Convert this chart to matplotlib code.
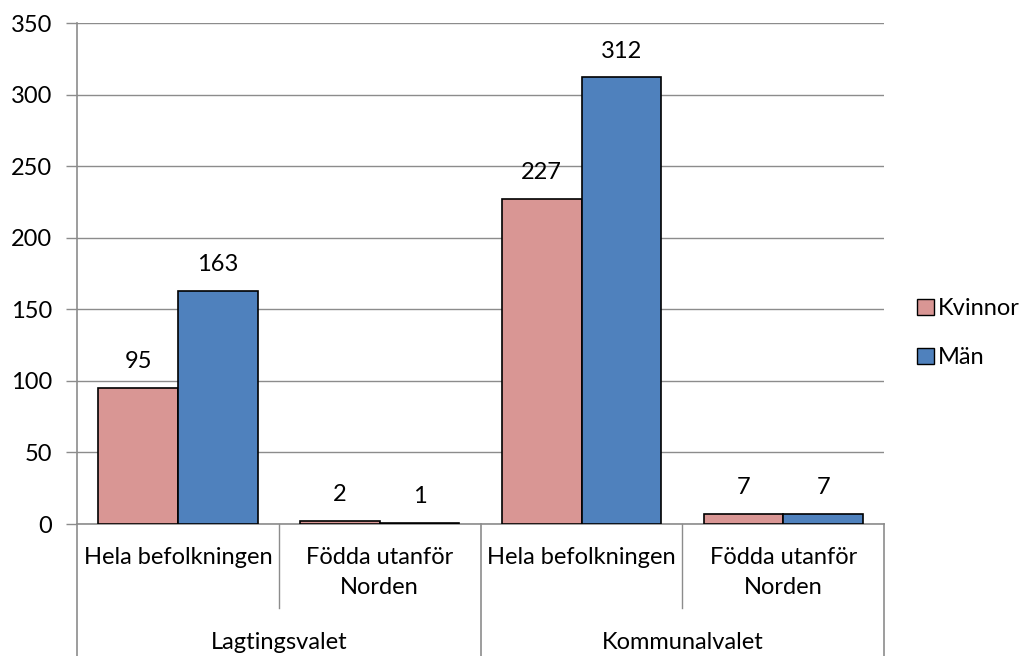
import matplotlib.pyplot as plt
from matplotlib.lines import Line2D
from matplotlib.patches import Patch

# data
categories = ["Hela befolkningen", "Födda utanför\nNorden", "Hela befolkningen", "Födda utanför\nNorden"]
groups = ["Lagtingsvalet", "Kommunalvalet"]
kvinnor = [95, 2, 227, 7]
man = [163, 1, 312, 7]
series_names = ["Kvinnor", "Män"]

pink = "#D99694"
blue = "#4F81BD"
grid_col = "#8C8C8C"

plt.rcParams["font.family"] = ["Lato", "DejaVu Sans"]
plt.rcParams["font.size"] = 17

fig = plt.figure(figsize=(10.27, 6.56), dpi=100)
ax = fig.add_axes([0.075, 0.2012, 0.786, 0.7637])

x = list(range(len(categories)))
w = 0.395
ax.bar([i - w / 2 for i in x], kvinnor, w, color=pink, edgecolor="black", linewidth=1.2, zorder=3)
ax.bar([i + w / 2 for i in x], man, w, color=blue, edgecolor="black", linewidth=1.2, zorder=3)

for i in x:
    ax.text(i - w / 2, kvinnor[i] + 11, str(kvinnor[i]), ha="center", va="bottom")
    ax.text(i + w / 2, man[i] + 11, str(man[i]), ha="center", va="bottom")

ax.set_xlim(-0.5, 3.5)
ax.set_ylim(0, 350)
ax.set_yticks(range(0, 351, 50))
ax.yaxis.grid(True, color=grid_col, linewidth=1)
ax.set_axisbelow(True)
ax.tick_params(axis="y", length=8, color=grid_col, width=1, pad=10)
ax.set_xticks([])

for s in ["top", "right"]:
    ax.spines[s].set_visible(False)
for s in ["left", "bottom"]:
    ax.spines[s].set_color(grid_col)
    ax.spines[s].set_linewidth(1.2)

# hierarchical x-axis labels
trans = ax.get_xaxis_transform()
for i, c in enumerate(categories):
    ax.text(i, -0.045, c, transform=trans, ha="center", va="top", linespacing=1.55)
for g, name in enumerate(groups):
    ax.text(2 * g + 0.5, -0.215, name, transform=trans, ha="center", va="top")

# separator lines
for xs in [0.5, 2.5]:
    ax.add_line(Line2D([xs, xs], [0, -0.168], transform=trans, color=grid_col, lw=1, clip_on=False))
for xs in [-0.5, 1.5, 3.5]:
    ax.add_line(Line2D([xs, xs], [0, -0.43], transform=trans, color=grid_col, lw=1.2, clip_on=False))

handles = [Patch(facecolor=pink, edgecolor="black"), Patch(facecolor=blue, edgecolor="black")]
fig.legend(handles, series_names, loc="center left", bbox_to_anchor=(0.893, 0.492),
           frameon=False, borderpad=0, borderaxespad=0, handlelength=0.7, handleheight=0.7,
           handletextpad=0.2, labelspacing=1.2)

fig.savefig("out.png", dpi=100)
